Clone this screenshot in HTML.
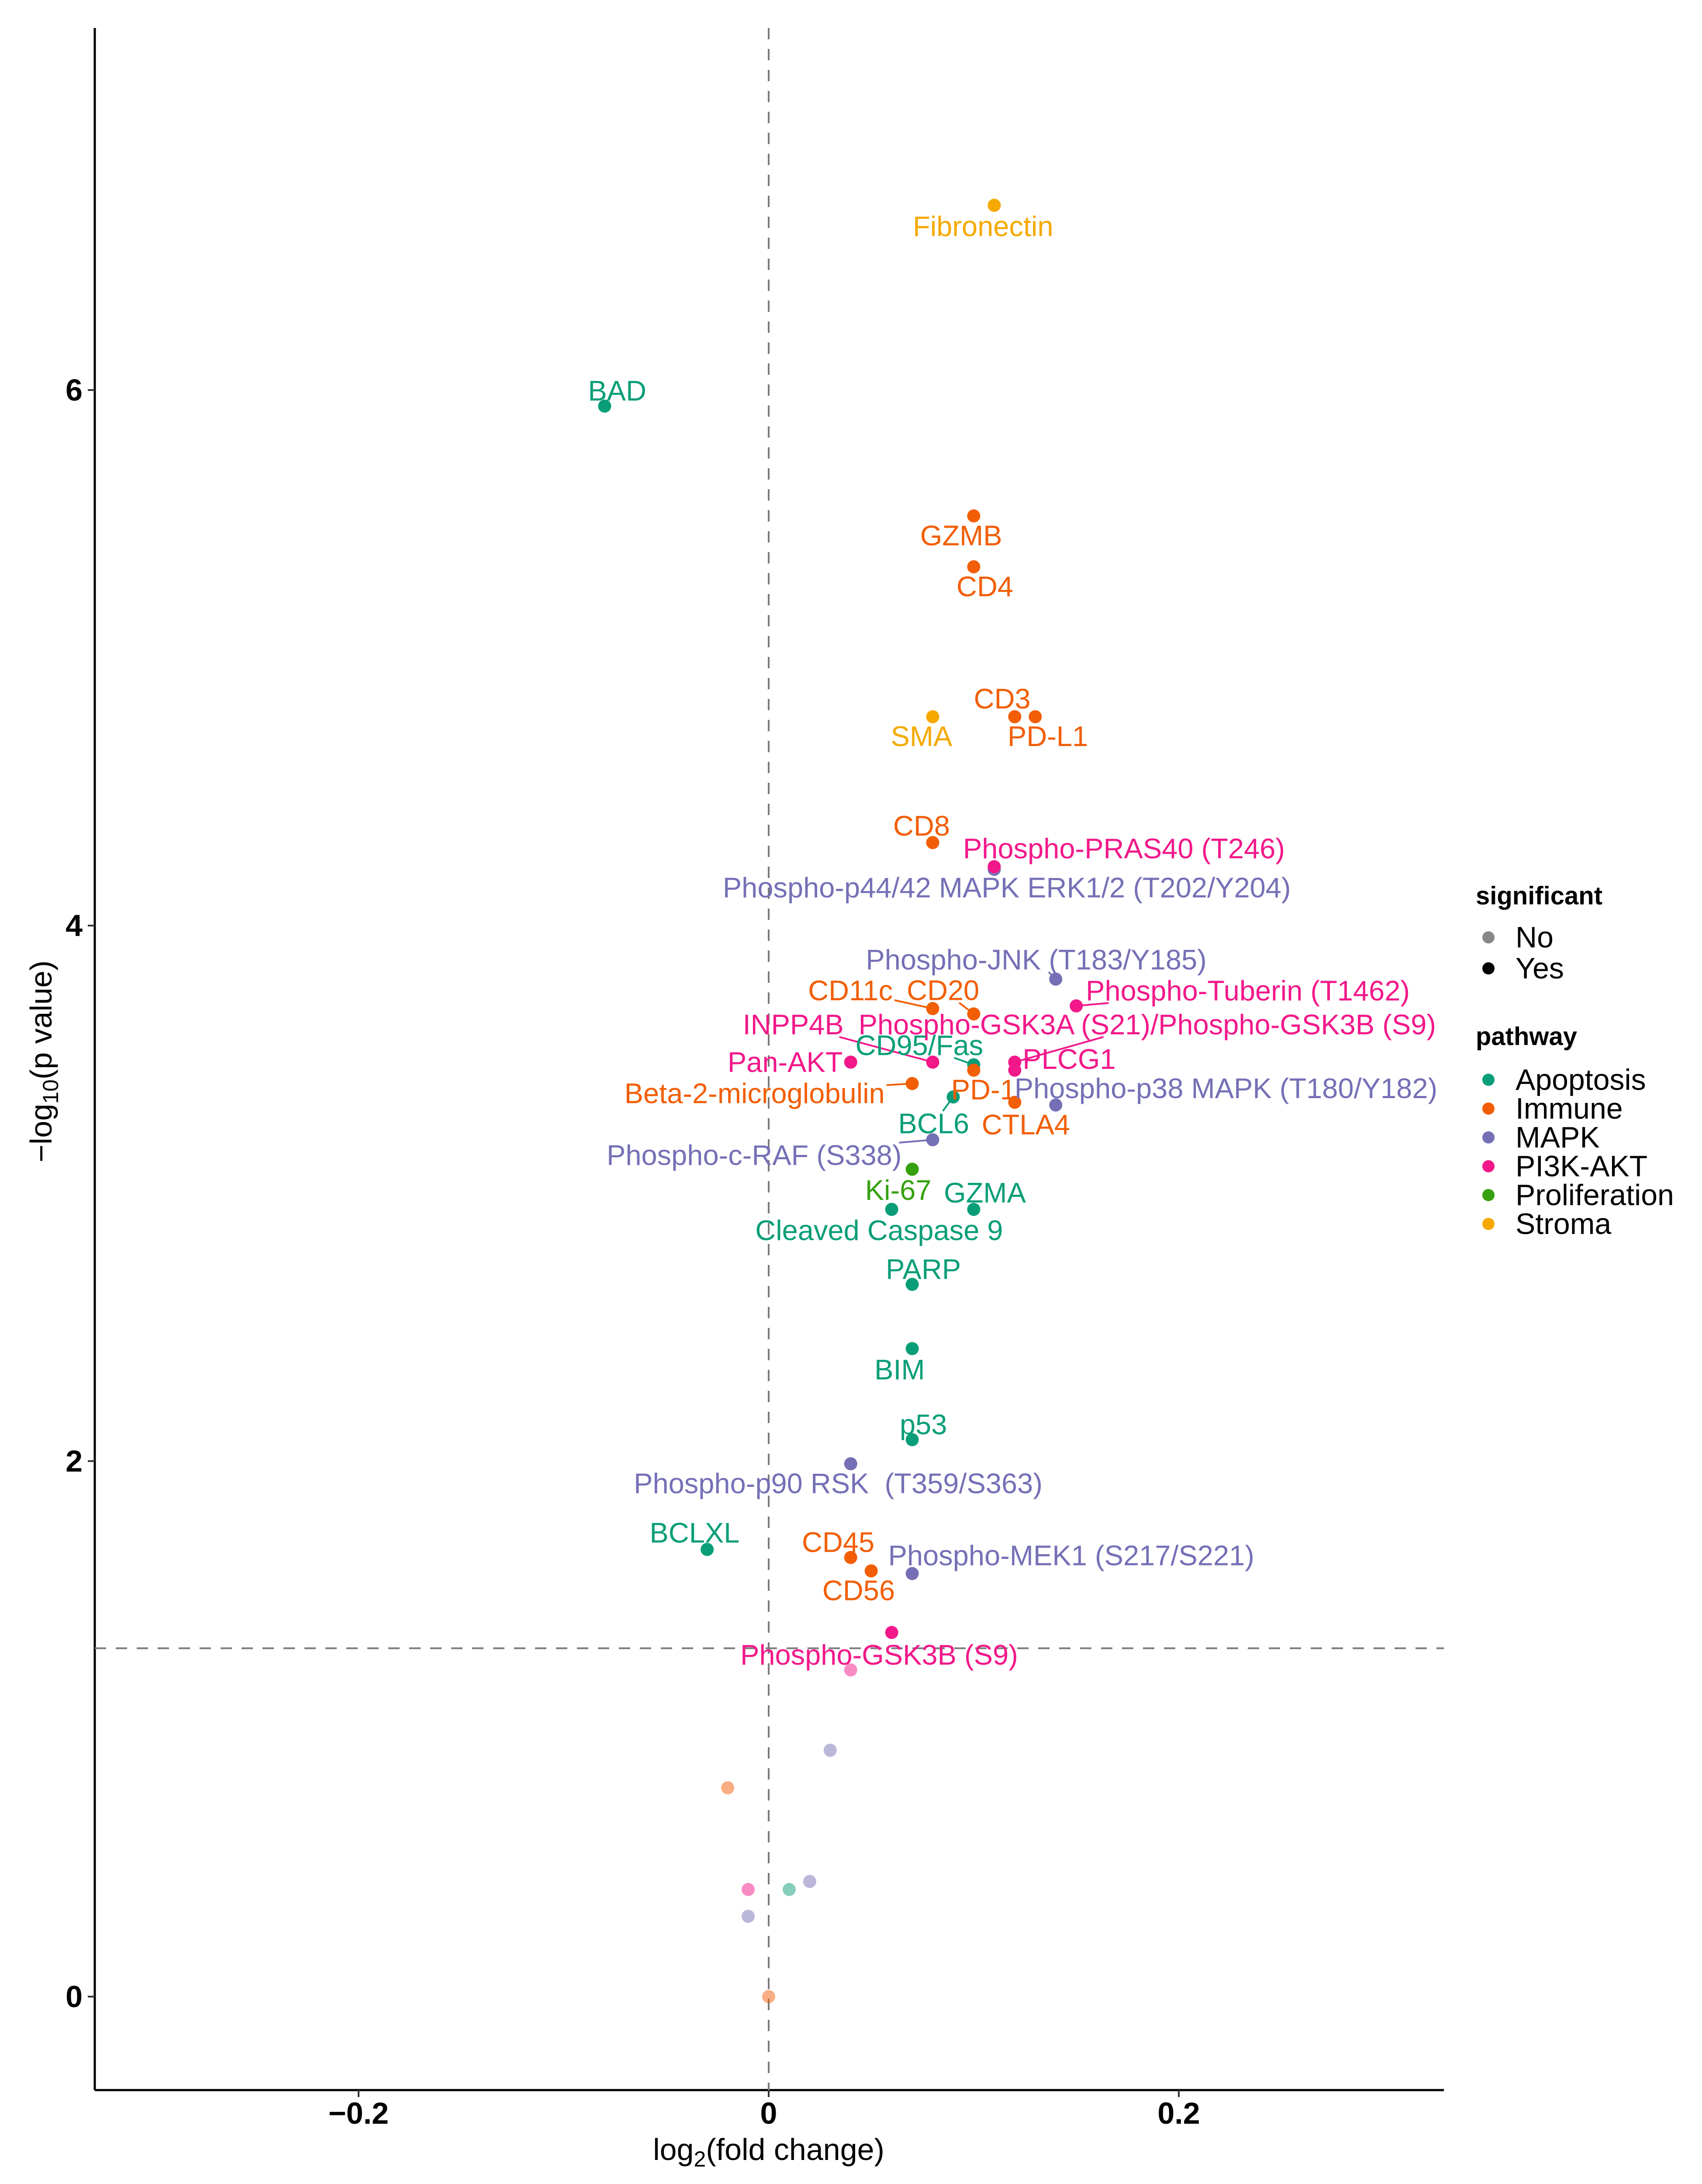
<!DOCTYPE html>
<html><head><meta charset="utf-8"><title>Volcano plot</title>
<style>
html,body{margin:0;padding:0;background:#fff;width:3897px;height:5034px;overflow:hidden;}
svg{display:block;font-family:"Liberation Sans",Arial,sans-serif;}
.lbl{white-space:pre;}
</style></head>
<body>
<svg id="chart" width="3897" height="5034" viewBox="0 0 3897 5034" xmlns="http://www.w3.org/2000/svg">
<g id="axes"></g>
<g id="refs"></g>
<g id="segs"></g>
<g id="pts"></g>
<g id="lbls"></g>
<g id="legend"></g>
</svg>
<script>
// ---- data ----
const names = ["Fibronectin","BAD","GZMB","CD4","CD3","PD-L1","SMA","CD8","Phospho-p44/42 MAPK ERK1/2 (T202/Y204)","Phospho-PRAS40 (T246)","Phospho-JNK (T183/Y185)","Phospho-Tuberin (T1462)","CD11c","CD20","Phospho-GSK3A (S21)/Phospho-GSK3B (S9)","PLCG1","INPP4B","Pan-AKT","CD95/Fas","PD-1","Beta-2-microglobulin","BCL6","CTLA4","Phospho-p38 MAPK (T180/Y182)","Phospho-c-RAF (S338)","Ki-67","GZMA","Cleaved Caspase 9","PARP","BIM","p53","Phospho-p90 RSK  (T359/S363)","BCLXL","CD45","CD56","Phospho-MEK1 (S217/S221)","Phospho-GSK3B (S9)","ns1","ns2","ns3","ns4","ns5","ns6","ns7","ns8"];
const pathways = ["Stroma","Apoptosis","Immune","Immune","Immune","Immune","Stroma","Immune","MAPK","PI3K-AKT","MAPK","PI3K-AKT","Immune","Immune","PI3K-AKT","PI3K-AKT","PI3K-AKT","PI3K-AKT","Apoptosis","Immune","Immune","Apoptosis","Immune","MAPK","MAPK","Proliferation","Apoptosis","Apoptosis","Apoptosis","Apoptosis","Apoptosis","MAPK","Apoptosis","Immune","Immune","MAPK","PI3K-AKT","PI3K-AKT","MAPK","Immune","MAPK","Apoptosis","PI3K-AKT","MAPK","Immune"];
const log2fc = [0.11,-0.08,0.10,0.10,0.12,0.13,0.08,0.08,0.11,0.11,0.14,0.15,0.08,0.10,0.12,0.12,0.08,0.04,0.10,0.10,0.07,0.09,0.12,0.14,0.08,0.07,0.10,0.06,0.07,0.07,0.07,0.04,-0.03,0.04,0.05,0.07,0.06,0.04,0.03,-0.02,0.02,0.01,-0.01,-0.01,0];
const neglogp = [6.69,5.94,5.53,5.34,4.78,4.78,4.78,4.31,4.21,4.22,3.80,3.70,3.69,3.67,3.49,3.46,3.49,3.49,3.48,3.46,3.41,3.36,3.34,3.33,3.20,3.09,2.94,2.94,2.66,2.42,2.08,1.99,1.67,1.64,1.59,1.58,1.36,1.22,0.92,0.78,0.43,0.40,0.40,0.30,0];
const yTicks = [0,2,4,6];
const xTicks = [-0.2,0,0.2];
const xTickLabels = ["\u22120.2","0","0.2"];
const pathwayLevels = ["Apoptosis","Immune","MAPK","PI3K-AKT","Proliferation","Stroma"];
const sigLevels = ["No","Yes"];
const threshold = 1.301;
// label offsets (layout, display px from point) and leader flags
const labelDX = [-8,9,-9,8,-9,9,-8,-8,9,93,-14,123,-59,-22,95,39,-100,-47,-39,7,-113,-14,8,122,-128,-10,8,-9,8,-9,8,-9,-9,-9,-9,114,-9];
const labelDY = [15,-11,14,14,-13,14,14,-12,13,-13,-14,-11,-13,-17,-27,-8,-27,0,-14,14,7,19,16,-12,11,15,-12,15,-11,15,-11,14,-12,-11,14,-13,16];
const leader = [0,0,0,0,0,0,0,0,0,0,1,1,1,1,1,1,1,0,1,0,1,1,0,0,1,0,0,0,0,0,0,0,0,0,0,0,0];

const colors = {"Apoptosis":"#0A9E78","Immune":"#F25E05","MAPK":"#7570B6","PI3K-AKT":"#F2188A","Proliferation":"#35A10E","Stroma":"#F5A900"};
const NS="http://www.w3.org/2000/svg";
const L=217,R=3306,T=64,B=4785;
function X(v){return 1760+v*4695;}
function Y(v){return 4571-v*613;}
function mk(tag,attrs,parent){const e=document.createElementNS(NS,tag);for(const k in attrs)e.setAttribute(k,attrs[k]);parent.appendChild(e);return e;}
const axes=document.getElementById('axes'),refs=document.getElementById('refs'),segs=document.getElementById('segs'),pts=document.getElementById('pts'),lbls=document.getElementById('lbls'),leg=document.getElementById('legend');

// axes
let a=mk('line',{x1:L,y1:T,x2:L,y2:B,stroke:'#000','stroke-width':5},axes);


a=mk('line',{x1:L,y1:B,x2:R,y2:B,stroke:'#000','stroke-width':5},axes);


yTicks.forEach(v=>{
  const t=mk('line',{x1:L-16,y1:Y(v),x2:L,y2:Y(v),stroke:'#333','stroke-width':4},axes);
  
  
  const tx=mk('text',{x:L-28,y:Y(v),'text-anchor':'end','dominant-baseline':'central','font-size':70,'font-weight':'bold',fill:'#000'},axes);
  tx.textContent=String(v);
  
  
});
xTicks.forEach((v,i)=>{
  const t=mk('line',{x1:X(v),y1:B,x2:X(v),y2:B+16,stroke:'#333','stroke-width':4},axes);
  
  
  const tx=mk('text',{x:X(v),y:4838,'text-anchor':'middle','dominant-baseline':'central','font-size':70,'font-weight':'bold',fill:'#000'},axes);
  tx.textContent=xTickLabels[i];
  
  
});
let xt=mk('text',{x:1760,y:4945,'text-anchor':'middle','font-size':70,fill:'#000'},axes);
xt.innerHTML='log<tspan font-size="50" dy="15">2</tspan><tspan dy="-15">(fold change)</tspan>';


let yt=mk('text',{x:0,y:0,'text-anchor':'middle','font-size':70,fill:'#000',transform:'translate(118,2430) rotate(-90)'},axes);
yt.innerHTML='\u2212log<tspan font-size="50" dy="15">10</tspan><tspan dy="-15">(p value)</tspan>';



// reference lines
let r=mk('line',{x1:X(0),y1:T,x2:X(0),y2:B,stroke:'#7a7a7a','stroke-width':4,'stroke-dasharray':'26 22'},refs);


r=mk('line',{x1:L,y1:Y(threshold),x2:R,y2:Y(threshold),stroke:'#7a7a7a','stroke-width':4,'stroke-dasharray':'26 22'},refs);



// points (non-significant first)
const order=names.map((n,i)=>i).sort((i,j)=>(neglogp[i]>=threshold?1:0)-(neglogp[j]>=threshold?1:0));
order.forEach(i=>{
  const sig=neglogp[i]>=threshold;
  const c=mk('circle',{cx:X(log2fc[i]),cy:Y(neglogp[i]),r:15,fill:colors[pathways[i]],'fill-opacity':sig?1:0.5},pts);
  
  
});
// labels
const S=3.194;
names.forEach((n,i)=>{
  if(neglogp[i]<threshold||i>=labelDX.length)return;
  const px=X(log2fc[i]),py=Y(neglogp[i]);
  const lx=px+labelDX[i]*S,ly=py+labelDY[i]*S;
  const t=mk('text',{x:lx,y:ly,'text-anchor':'middle','dominant-baseline':'central','font-size':65,fill:colors[pathways[i]],'class':'lbl'},lbls);
  t.textContent=n;
  
  
  if(leader[i]){
    const bb=t.getBBox();
    const hw=bb.width/2+4,hh=bb.height/2-8;
    const dx=px-lx,dy=py-ly;
    if(Math.abs(dx)>hw||Math.abs(dy)>hh){
      const sc=Math.min(dx!==0?hw/Math.abs(dx):Infinity,dy!==0?hh/Math.abs(dy):Infinity);
      const ex=lx+dx*sc,ey=ly+dy*sc;
      const s=mk('line',{x1:px,y1:py,x2:ex,y2:ey,stroke:colors[pathways[i]],'stroke-width':4},segs);
      
      
    }
  }
});

// legend
let lt=mk('text',{x:3379,y:2051,'dominant-baseline':'central','font-size':58,'font-weight':'bold',fill:'#000'},leg);
lt.textContent='significant';


const sigY=[2146,2217],sigC=['#888','#000'];
sigLevels.forEach((s,i)=>{
  const c=mk('circle',{cx:3408,cy:sigY[i],r:14,fill:sigC[i]},leg);
  
  
  const t=mk('text',{x:3470,y:sigY[i],'dominant-baseline':'central','font-size':68,fill:'#000'},leg);
  t.textContent=s;
  
  
});
lt=mk('text',{x:3379,y:2373,'dominant-baseline':'central','font-size':58,'font-weight':'bold',fill:'#000'},leg);
lt.textContent='pathway';


pathwayLevels.forEach((p,i)=>{
  const y=2472+i*66;
  const c=mk('circle',{cx:3408,cy:y,r:14,fill:colors[p]},leg);
  
  
  const t=mk('text',{x:3470,y:y,'dominant-baseline':'central','font-size':68,fill:'#000'},leg);
  t.textContent=p;
  
  
});
</script>
</body></html>
